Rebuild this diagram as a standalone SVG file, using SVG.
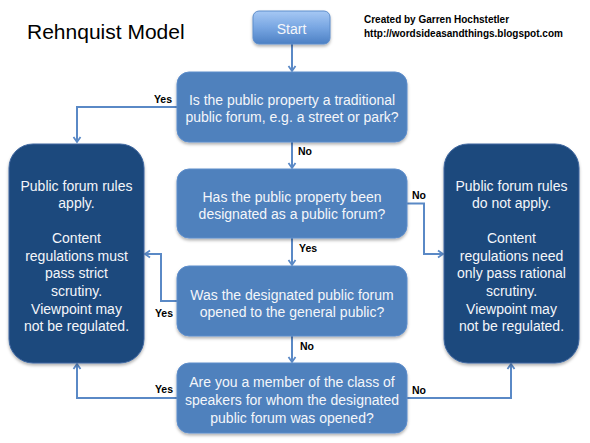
<svg xmlns="http://www.w3.org/2000/svg" width="590" height="443" viewBox="0 0 590 443">
<defs>
<linearGradient id="gStart" x1="0" y1="0" x2="0" y2="1">
<stop offset="0" stop-color="#a6c8f4"/>
<stop offset="0.5" stop-color="#78a6e2"/>
<stop offset="1" stop-color="#4c80c4"/>
</linearGradient>
<filter id="sh" x="-10%" y="-10%" width="120%" height="130%">
<feDropShadow dx="0" dy="2" stdDeviation="1.5" flood-color="#000" flood-opacity="0.3"/>
</filter>
<marker id="arr" markerUnits="userSpaceOnUse" markerWidth="10" markerHeight="10" viewBox="0 0 10 10" refX="8" refY="5" orient="auto">
<polyline points="3,1.5 8,5 3,8.5" fill="none" stroke="#5a89c6" stroke-width="1.8"/>
</marker>
</defs>
<style>
.q{fill:#4f81bd;stroke:#5d8dcb;stroke-width:1;filter:url(#sh)}
.d{fill:#1f487d;stroke:#3d67a0;stroke-width:1;filter:url(#sh)}
.t{font-family:"Liberation Sans",Arial,sans-serif;font-size:14px;fill:#f4f6fa;text-anchor:middle}
.lb{font-family:"Liberation Sans",Arial,sans-serif;font-size:10.5px;font-weight:bold;fill:#000}
.c{fill:none;stroke:#5a89c6;stroke-width:2;marker-end:url(#arr)}
</style>
<rect width="590" height="443" fill="#fff"/>
<text x="27" y="39" font-family="'Liberation Sans',Arial,sans-serif" font-size="21" fill="#000">Rehnquist Model</text>
<text x="364" y="23" font-family="'Liberation Sans',Arial,sans-serif" font-size="10" font-weight="bold" fill="#000">Created by Garren Hochstetler</text>
<text x="364" y="37" font-family="'Liberation Sans',Arial,sans-serif" font-size="10" font-weight="bold" fill="#000">http://wordsideasandthings.blogspot.com</text>

<g id="connectors">
<path class="c" d="M292 44 V71"/>
<path class="c" d="M177 107 H77 V142"/>
<path class="c" d="M292 142 V168"/>
<path class="c" d="M407 203.5 H424 V254 H443"/>
<path class="c" d="M292 238 V265"/>
<path class="c" d="M177 301 H161 V254 H145"/>
<path class="c" d="M292 336 V362"/>
<path class="c" d="M177 398 H77 V364"/>
<path class="c" d="M407 398 H511 V364"/>
<text class="lb" x="172" y="103" text-anchor="end">Yes</text>
<text class="lb" x="298" y="155">No</text>
<text class="lb" x="412" y="199">No</text>
<text class="lb" x="299" y="252">Yes</text>
<text class="lb" x="173" y="317" text-anchor="end">Yes</text>
<text class="lb" x="300" y="350">No</text>
<text class="lb" x="173" y="393" text-anchor="end">Yes</text>
<text class="lb" x="412" y="394">No</text>
</g>

<g id="start">
<rect x="253" y="11" width="77" height="33" rx="6" fill="url(#gStart)" stroke="#5d8dcb" stroke-width="1" filter="url(#sh)"/>
<text class="t" x="291.5" y="34">Start</text>
</g>

<g id="q1">
<rect class="q" x="177" y="72" width="230" height="70" rx="12"/>
<text class="t" x="292" y="105">Is the public property a traditional</text>
<text class="t" x="292" y="122">public forum, e.g. a street or park?</text>
</g>

<g id="q2">
<rect class="q" x="177" y="169" width="230" height="69" rx="12"/>
<text class="t" x="292" y="202">Has the public property been</text>
<text class="t" x="292" y="219">designated as a public forum?</text>
</g>

<g id="q3">
<rect class="q" x="177" y="266" width="230" height="70" rx="12"/>
<text class="t" x="292" y="300">Was the designated public forum</text>
<text class="t" x="292" y="317">opened to the general public?</text>
</g>

<g id="q4">
<rect class="q" x="177" y="363" width="230" height="70" rx="12"/>
<text class="t" x="292" y="387">Are you a member of the class of</text>
<text class="t" x="292" y="405">speakers for whom the designated</text>
<text class="t" x="292" y="423">public forum was opened?</text>
</g>

<g id="apply">
<rect class="d" x="9" y="144" width="135" height="219" rx="24"/>
<text class="t" x="76.5" y="190.5">Public forum rules</text>
<text class="t" x="76.5" y="208">apply.</text>
<text class="t" x="76.5" y="243">Content</text>
<text class="t" x="76.5" y="260.7">regulations must</text>
<text class="t" x="76.5" y="278.3">pass strict</text>
<text class="t" x="76.5" y="296">scrutiny.</text>
<text class="t" x="76.5" y="313.6">Viewpoint may</text>
<text class="t" x="76.5" y="331.2">not be regulated.</text>
</g>

<g id="notapply">
<rect class="d" x="444" y="144" width="135" height="219" rx="24"/>
<text class="t" x="511.5" y="190.5">Public forum rules</text>
<text class="t" x="511.5" y="208">do not apply.</text>
<text class="t" x="511.5" y="243">Content</text>
<text class="t" x="511.5" y="260.7">regulations need</text>
<text class="t" x="511.5" y="278.3">only pass rational</text>
<text class="t" x="511.5" y="296">scrutiny.</text>
<text class="t" x="511.5" y="313.6">Viewpoint may</text>
<text class="t" x="511.5" y="331.2">not be regulated.</text>
</g>
</svg>
